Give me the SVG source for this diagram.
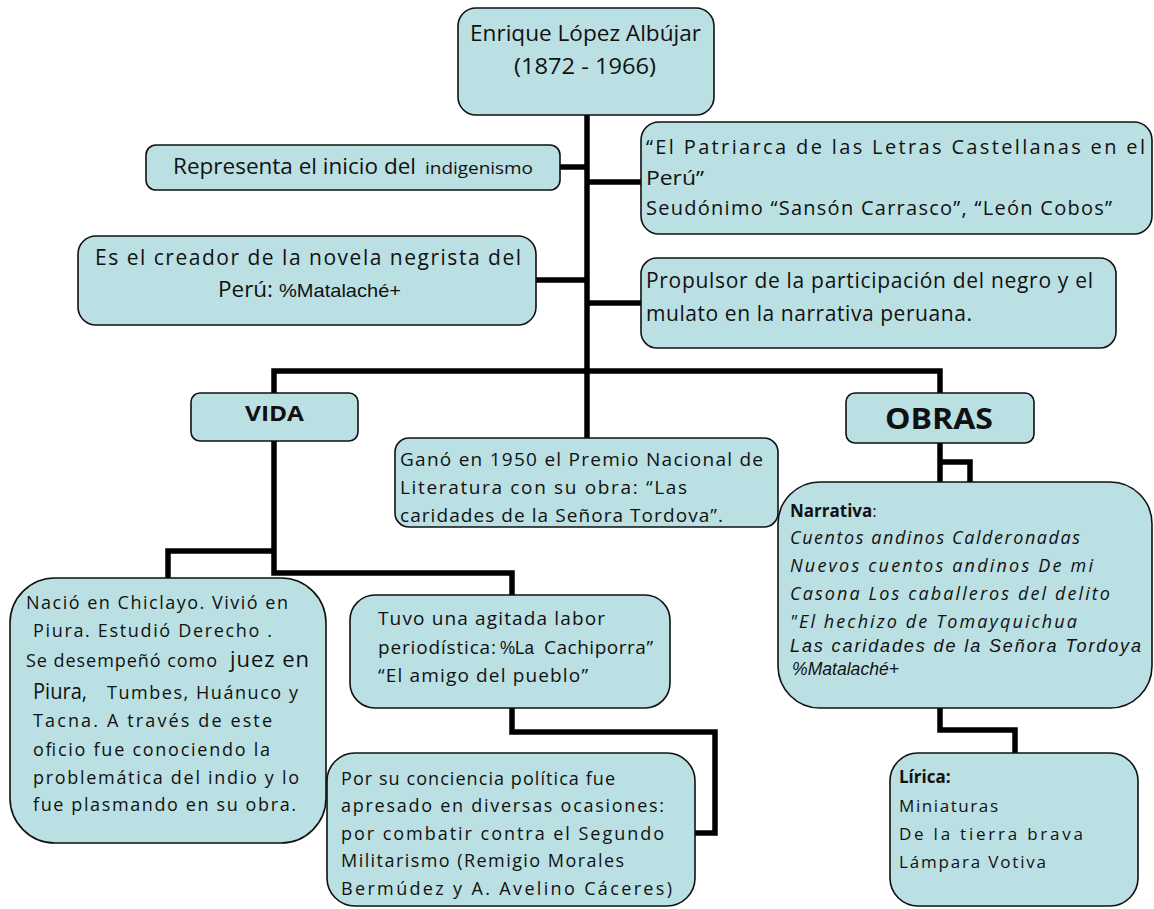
<svg xmlns="http://www.w3.org/2000/svg" width="1154" height="909" viewBox="0 0 1154 909">
<style>
.box{fill:#bbe0e3;stroke:#111;stroke-width:1.6}
.conn{fill:none;stroke:#000;stroke-width:5.5;stroke-linejoin:miter;stroke-linecap:butt}
text{font-family:"Open Sans","Liberation Sans",sans-serif;fill:#111;font-size:18px}
.s21{font-size:21px}
.s20{font-size:20px}
.s19{font-size:19px}
.s17{font-size:17px}
.ar{font-family:"Liberation Sans",Arial,sans-serif}
.it{font-style:italic}
.b{font-weight:bold}
</style>
<rect width="1154" height="909" fill="#fff"/>
<g id="connectors">
<path class="conn" d="M587,115 V438"/>
<path class="conn" d="M560,167 H587"/>
<path class="conn" d="M587,182 H641"/>
<path class="conn" d="M536,280 H587"/>
<path class="conn" d="M587,303 H641"/>
<path class="conn" d="M274,393 V371 H940 V393"/>
<path class="conn" d="M274,441 V573 H512 V595"/>
<path class="conn" d="M274,551 H168 V578"/>
<path class="conn" d="M512,708 V732 H715 V833 H695"/>
<path class="conn" d="M940,443 V483"/>
<path class="conn" d="M940,462 H970 V483"/>
<path class="conn" d="M940,708 V730 H1015 V753"/>
</g>
<g id="n-root">
<rect class="box" x="458" y="8" width="256" height="107" rx="18"/>
<text class="s21" x="470" y="41" textLength="231" lengthAdjust="spacingAndGlyphs">Enrique López Albújar</text>
<text class="s21" x="514" y="74" textLength="142" lengthAdjust="spacingAndGlyphs">(1872 - 1966)</text>
</g>
<g id="n-representa">
<rect class="box" x="146" y="145" width="414" height="45" rx="10"/>
<text class="s21" x="173" y="174" textLength="243" lengthAdjust="spacingAndGlyphs">Representa el inicio del</text>
<text x="425" y="174" style="font-size:16px" textLength="108" lengthAdjust="spacingAndGlyphs">indigenismo</text>
</g>
<g id="n-patriarca">
<rect class="box" x="641" y="122" width="511" height="112" rx="18"/>
<text class="s20" x="646" y="154" textLength="499" lengthAdjust="spacing">“El Patriarca  de las Letras Castellanas en el</text>
<text class="s20" x="646" y="185" textLength="58" lengthAdjust="spacingAndGlyphs">Perú”</text>
<text class="s20" x="646" y="215" textLength="466" lengthAdjust="spacing">Seudónimo “Sansón  Carrasco”, “León Cobos”</text>
</g>
<g id="n-creador">
<rect class="box" x="78" y="236" width="458" height="89" rx="18"/>
<text class="s21" x="95" y="265" textLength="426" lengthAdjust="spacing">Es el creador de  la  novela  negrista  del</text>
<text class="s21" x="218" y="297" textLength="55" lengthAdjust="spacingAndGlyphs">Perú:</text>
<text class="s19 ar" x="279" y="297" textLength="122" lengthAdjust="spacingAndGlyphs">%Matalaché+</text>
</g>
<g id="n-propulsor">
<rect class="box" x="641" y="258" width="475" height="90" rx="16"/>
<text class="s21" x="646" y="288" textLength="447" lengthAdjust="spacing">Propulsor de la participación del negro y el</text>
<text class="s21" x="646" y="321" textLength="326" lengthAdjust="spacing">mulato en la narrativa peruana.</text>
</g>
<g id="n-vida">
<rect class="box" x="191" y="393" width="167" height="48" rx="9"/>
<text class="b" x="245" y="421" style="font-size:22px" textLength="59" lengthAdjust="spacingAndGlyphs">VIDA</text>
</g>
<g id="n-obras">
<rect class="box" x="846" y="393" width="188" height="50" rx="9"/>
<text class="b" x="885" y="429" style="font-size:28px" textLength="108" lengthAdjust="spacingAndGlyphs">OBRAS</text>
</g>
<g id="n-gano">
<rect class="box" x="395" y="438" width="383" height="89" rx="14"/>
<text class="s19" x="400" y="466" textLength="363" lengthAdjust="spacing">Ganó  en  1950  el  Premio  Nacional  de</text>
<text class="s19" x="400" y="494" textLength="287" lengthAdjust="spacing">Literatura  con  su  obra:  “Las</text>
<text class="s19" x="400" y="522" textLength="323" lengthAdjust="spacing">caridades  de  la  Señora Tordova”.</text>
</g>
<g id="n-nacio">
<rect class="box" x="10" y="578" width="316" height="265" rx="45"/>
<text x="26" y="609" textLength="262" lengthAdjust="spacing">Nació  en  Chiclayo. Vivió  en</text>
<text x="33" y="637" textLength="239" lengthAdjust="spacing">Piura.  Estudió  Derecho .</text>
<text x="26" y="667" textLength="191" lengthAdjust="spacing">Se desempeñó  como</text>
<text x="230" y="667" style="font-size:22px" textLength="79" lengthAdjust="spacing">juez en</text>
<text x="33" y="699" class="s21" textLength="54" lengthAdjust="spacingAndGlyphs">Piura,</text>
<text x="107" y="699" textLength="191" lengthAdjust="spacing">Tumbes, Huánuco y</text>
<text x="33" y="727" textLength="239" lengthAdjust="spacing">Tacna.  A  través  de este</text>
<text x="33" y="756" textLength="237" lengthAdjust="spacing">oficio  fue  conociendo  la</text>
<text x="33" y="784" textLength="266" lengthAdjust="spacing">problemática  del  indio  y  lo</text>
<text x="33" y="811" textLength="263" lengthAdjust="spacing">fue  plasmando  en  su  obra.</text>
</g>
<g id="n-tuvo">
<rect class="box" x="350" y="595" width="320" height="113" rx="25"/>
<text class="s19" x="378" y="625" textLength="227" lengthAdjust="spacing">Tuvo  una  agitada  labor</text>
<text class="s19" x="378" y="654" textLength="118" lengthAdjust="spacing">periodística:</text>
<text class="s19 ar" x="500" y="654" textLength="34" lengthAdjust="spacingAndGlyphs">%La</text>
<text class="s19" x="544" y="654" textLength="109" lengthAdjust="spacing">Cachiporra”</text>
<text class="s19" x="378" y="682" textLength="210" lengthAdjust="spacing">“El  amigo  del  pueblo”</text>
</g>
<g id="n-porsu">
<rect class="box" x="327" y="753" width="368" height="153" rx="28"/>
<text x="341" y="785" textLength="274" lengthAdjust="spacing">Por su conciencia política fue</text>
<text x="341" y="812" textLength="323" lengthAdjust="spacing">apresado  en  diversas  ocasiones:</text>
<text x="341" y="840" textLength="323" lengthAdjust="spacing">por  combatir  contra  el  Segundo</text>
<text x="341" y="867" textLength="283" lengthAdjust="spacing">Militarismo (Remigio  Morales</text>
<text x="341" y="895" textLength="331" lengthAdjust="spacing">Bermúdez  y  A.  Avelino  Cáceres)</text>
</g>
<g id="n-narrativa">
<rect class="box" x="778" y="482" width="374" height="226" rx="42"/>
<text class="s17" x="790" y="517"><tspan class="b">Narrativa</tspan>:</text>
<text class="it" x="790" y="544" textLength="290" lengthAdjust="spacing">Cuentos  andinos  Calderonadas</text>
<text class="it" x="790" y="572" textLength="303" lengthAdjust="spacing">Nuevos  cuentos  andinos  De  mi</text>
<text class="it" x="790" y="600" textLength="320" lengthAdjust="spacing">Casona  Los  caballeros  del  delito</text>
<text class="it" x="790" y="628" textLength="287" lengthAdjust="spacing">"El  hechizo  de  Tomayquichua</text>
<text class="it ar" x="790" y="652" textLength="351" lengthAdjust="spacing">Las  caridades  de  la  Señora  Tordoya</text>
<text class="it ar" x="792" y="675" textLength="107" lengthAdjust="spacingAndGlyphs">%Matalaché+</text>
</g>
<g id="n-lirica">
<rect class="box" x="890" y="753" width="248" height="153" rx="28"/>
<text class="s17 b" x="899" y="783">Lírica:</text>
<text class="s17" x="899" y="812" textLength="99" lengthAdjust="spacing">Miniaturas</text>
<text class="s17" x="899" y="840" textLength="184" lengthAdjust="spacing">De  la  tierra  brava</text>
<text class="s17" x="899" y="868" textLength="147" lengthAdjust="spacing">Lámpara  Votiva</text>
</g>
</svg>
